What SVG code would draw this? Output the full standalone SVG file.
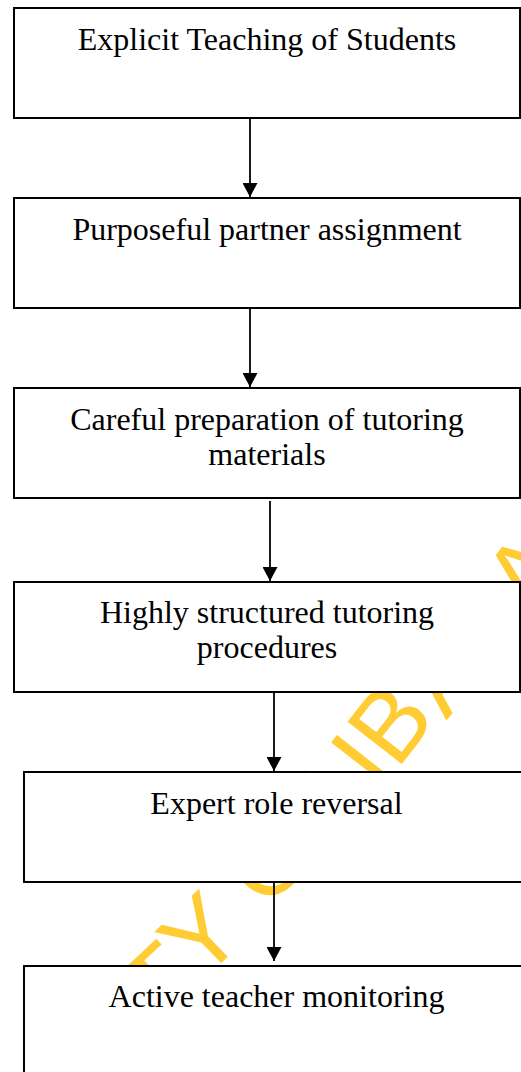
<svg xmlns="http://www.w3.org/2000/svg" width="521" height="1072" viewBox="0 0 521 1072">
<style>
.wm{font-family:"Liberation Sans",Arial,sans-serif;font-size:100px;fill:#FFCC33;text-anchor:middle}
.box{fill:#ffffff;stroke:#000000;stroke-width:2}
.lbl{font-family:"Liberation Serif","Times New Roman",serif;font-size:32px;fill:#000000;text-anchor:middle}
.arr{fill:none;stroke:#000000;stroke-width:1.8;marker-end:url(#ah)}
</style>
<defs>
<marker id="ah" viewBox="0 0 14 15" refX="14" refY="7.5" markerWidth="14" markerHeight="15" markerUnits="userSpaceOnUse" orient="auto">
<path d="M0,0 L14,7.5 L0,15 Z" fill="#000000"/>
</marker>
</defs>
<rect x="0" y="0" width="521" height="1072" fill="#ffffff"/>
<g id="watermark">
<text class="wm" transform="translate(158,982) rotate(-43)" y="36">T</text>
<text class="wm" transform="translate(199.5,934) rotate(-44)" y="36">Y</text>
<text class="wm" transform="translate(267,858) rotate(-46)" y="36">O</text>
<text class="wm" transform="translate(312,812) rotate(-48)" y="36">F</text>
<text class="wm" transform="translate(360,759) rotate(-52)" y="36">I</text>
<text class="wm" transform="translate(389,722) rotate(-52)" y="36">B</text>
<text class="wm" transform="translate(440,672) rotate(-50)" y="36">A</text>
<text class="wm" transform="translate(525,571) rotate(-53)" y="36">A</text>
</g>
<g id="n1">
<rect class="box" x="14" y="8" width="506" height="110"/>
<text class="lbl" x="267" y="50">Explicit Teaching of Students</text>
</g>
<g id="n2">
<rect class="box" x="14" y="198" width="506" height="110"/>
<text class="lbl" x="267" y="239.5">Purposeful partner assignment</text>
</g>
<g id="n3">
<rect class="box" x="14" y="388" width="506" height="110"/>
<text class="lbl" x="267" y="429.5">Careful preparation of tutoring</text>
<text class="lbl" x="267" y="465">materials</text>
</g>
<g id="n4">
<rect class="box" x="14" y="582" width="506" height="110"/>
<text class="lbl" x="267" y="622.7">Highly structured tutoring</text>
<text class="lbl" x="267" y="658.3">procedures</text>
</g>
<g id="n5">
<rect class="box" x="24" y="772" width="510" height="110"/>
<text class="lbl" x="276.5" y="813.5">Expert role reversal</text>
</g>
<g id="n6">
<rect class="box" x="24" y="966" width="510" height="130"/>
<text class="lbl" x="276.5" y="1006.5">Active teacher monitoring</text>
</g>
<g id="connectors">
<line class="arr" x1="250" y1="118" x2="250" y2="197"/>
<line class="arr" x1="250" y1="308" x2="250" y2="387"/>
<line class="arr" x1="270" y1="501" x2="270" y2="581"/>
<line class="arr" x1="274" y1="692" x2="274" y2="771"/>
<line class="arr" x1="274" y1="882" x2="274" y2="961"/>
</g>
</svg>
